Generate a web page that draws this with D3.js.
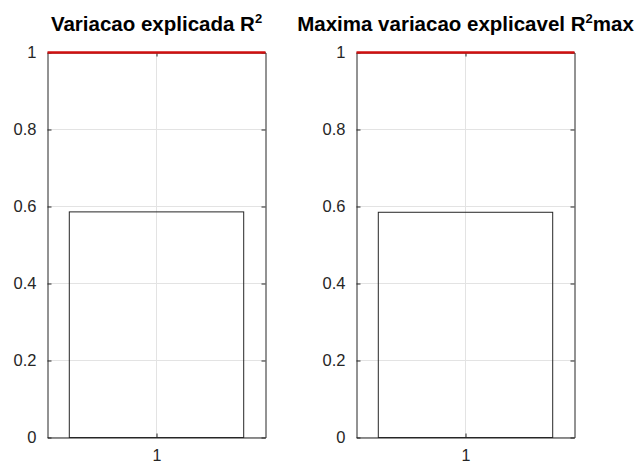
<!DOCTYPE html>
<html>
<head>
<meta charset="utf-8">
<script src="https://cdn.jsdelivr.net/npm/d3@7"></script>
<style>
  body { margin: 0; background: #fff; }
  text { font-family: "Liberation Sans", Arial, sans-serif; }
</style>
</head>
<body>
<script>
// data for the two panels
var titles = ["Variacao explicada R", "Maxima variacao explicavel R"];
var titleSuffix = ["", "max"];
var categories = [1];
var r2Values = [0.586];
var r2maxValues = [0.585];
var refLine = [1];
var yTicks = [0, 0.2, 0.4, 0.6, 0.8, 1];

var W = 643, H = 466;
var svg = d3.select("body").append("svg")
    .attr("width", W)
    .attr("height", H);

var panels = [
    { left: 47.5, right: 265.5, values: r2Values },
    { left: 356.5, right: 574.5, values: r2maxValues }
];
var plotTop = 52.5, plotBottom = 437.5;

panels.forEach(function(p, i) {
    var x = d3.scaleLinear().domain([0.5, 1.5]).range([p.left, p.right]);
    var y = d3.scaleLinear().domain([0, 1]).range([plotBottom, plotTop]);
    var g = svg.append("g");

    // grid
    g.selectAll(".hgrid").data(yTicks).enter().append("line")
        .attr("x1", p.left).attr("x2", p.right)
        .attr("y1", function(d) { return y(d); })
        .attr("y2", function(d) { return y(d); })
        .attr("stroke", "#e3e3e3").attr("stroke-width", 1);
    g.selectAll(".vgrid").data(categories).enter().append("line")
        .attr("x1", function(d) { return x(d); })
        .attr("x2", function(d) { return x(d); })
        .attr("y1", plotTop).attr("y2", plotBottom)
        .attr("stroke", "#e3e3e3").attr("stroke-width", 1);

    // bars
    g.selectAll(".bar").data(p.values).enter().append("rect")
        .attr("x", function(d, j) { return x(categories[j] - 0.4); })
        .attr("width", x(1.4) - x(0.6))
        .attr("y", function(d) { return y(d); })
        .attr("height", function(d) { return y(0) - y(d); })
        .attr("fill", "none")
        .attr("stroke", "#262626").attr("stroke-width", 1);

    // axes
    var yAxis = d3.axisLeft(y).tickValues(yTicks).tickSizeInner(-4).tickSizeOuter(0)
        .tickPadding(11).tickFormat(function(d) { return d === 0 || d === 1 ? d : d3.format(".1f")(d); });
    var ga = g.append("g").attr("transform", "translate(" + p.left + ",0)").call(yAxis);
    ga.select(".domain").attr("stroke", "#262626");
    ga.selectAll(".tick line").attr("stroke", "#262626");
    ga.selectAll("text").attr("fill", "#262626").style("font-size", "16.5px");

    var yAxisR = d3.axisRight(y).tickValues(yTicks).tickSizeInner(-4).tickSizeOuter(0).tickFormat("");
    var gr = g.append("g").attr("transform", "translate(" + p.right + ",0)").call(yAxisR);
    gr.selectAll("path, line").attr("stroke", "#262626");

    var xAxis = d3.axisBottom(x).tickValues(categories).tickSizeInner(-4).tickSizeOuter(0)
        .tickPadding(12).tickFormat(d3.format("d"));
    var gx = g.append("g").attr("transform", "translate(0," + plotBottom + ")").call(xAxis);
    gx.select(".domain").attr("stroke", "#262626");
    gx.selectAll(".tick line").attr("stroke", "#262626");
    gx.selectAll("text").attr("fill", "#262626").style("font-size", "16px");

    var xAxisT = d3.axisTop(x).tickValues(categories).tickSizeInner(-4).tickSizeOuter(0).tickFormat("");
    var gt = g.append("g").attr("transform", "translate(0," + plotTop + ")").call(xAxisT);
    gt.selectAll("path, line").attr("stroke", "#262626");

    // red reference line at 1
    g.selectAll(".ref").data(refLine).enter().append("line")
        .attr("x1", p.left).attr("x2", p.right)
        .attr("y1", function(d) { return y(d); })
        .attr("y2", function(d) { return y(d); })
        .attr("stroke", "#d01010").attr("stroke-width", 2.5);

    // title
    var t = svg.append("text")
        .attr("x", (p.left + p.right) / 2)
        .attr("y", 31)
        .attr("text-anchor", "middle")
        .style("font-size", "20.5px")
        .style("font-weight", "bold")
        .attr("fill", "#000");
    t.append("tspan").text(titles[i]);
    t.append("tspan").attr("dy", -8).style("font-size", "13px").text("2");
    t.append("tspan").attr("dy", 8).text(titleSuffix[i]);
});
</script>
</body>
</html>
